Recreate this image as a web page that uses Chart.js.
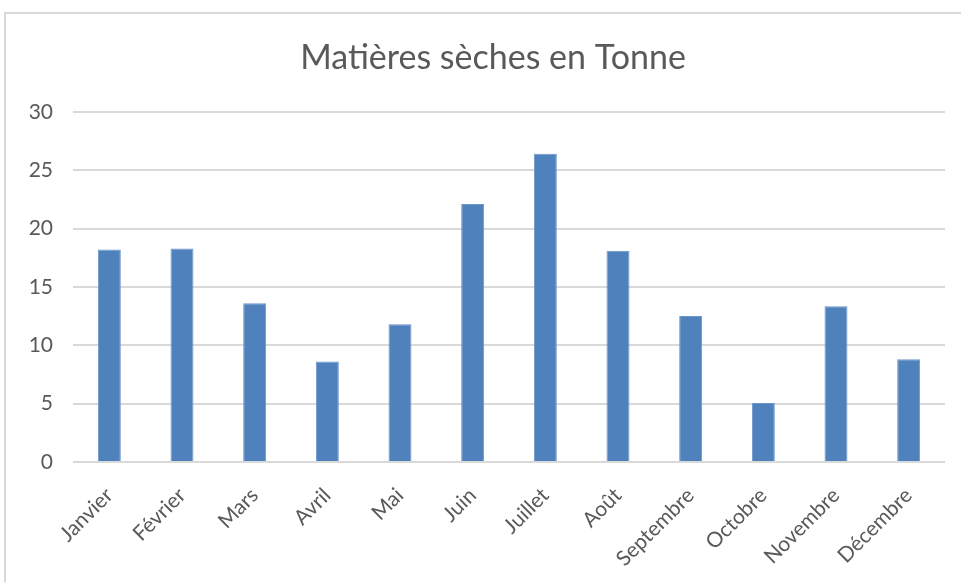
<!DOCTYPE html>
<html>
<head>
<meta charset="utf-8">
<script src="https://cdn.jsdelivr.net/npm/chart.js@4/dist/chart.umd.min.js"></script>
<style>
  html, body { margin: 0; padding: 0; background: #fff; overflow: hidden; }
  #cadre { position: absolute; left: 4px; top: 12px; width: 990px; height: 620px; border: 2px solid #d9d9d9; }
  #zone { position: absolute; left: 0; top: 0; width: 986px; height: 582px; }
</style>
</head>
<body>
<div id="cadre"></div>
<div id="zone"><canvas id="graficoMatieres" width="986" height="582"></canvas></div>
<script>
const mois = [
  'Janvier', 'Février', 'Mars', 'Avril', 'Mai', 'Juin',
  'Juillet', 'Août', 'Septembre', 'Octobre', 'Novembre', 'Décembre'
];
const tonnes = [18.2, 18.3, 13.6, 8.6, 11.8, 22.1, 26.4, 18.1, 12.5, 5.05, 13.35, 8.8];
const titre = 'Matières sèches en Tonne';
const graduations = [0, 5, 10, 15, 20, 25, 30];

const police = 'Lato, "Open Sans", sans-serif';
const gris = '#595959';

// le titre est centré sur le cadre : on décale la marge gauche,
// puis on rend à l'axe Y toute la place pour ses libellés
const elargirAxeY = {
  id: 'elargirAxeY',
  afterLayout(chart) {
    chart.scales.y.left = 0;
  }
};

new Chart(document.getElementById('graficoMatieres').getContext('2d'), {
  type: 'bar',
  data: {
    labels: mois,
    datasets: [{
      label: titre,
      data: tonnes,
      backgroundColor: '#4f81bd',
      borderColor: '#6b95c9',
      borderWidth: 1,
      categoryPercentage: 1,
      barPercentage: 0.316
    }]
  },
  options: {
    responsive: false,
    animation: false,
    devicePixelRatio: 1,
    layout: { padding: { left: 41, right: 41, top: 0, bottom: 0 } },
    plugins: {
      legend: { display: false },
      tooltip: { enabled: false },
      title: {
        display: true,
        text: titre,
        color: gris,
        font: { family: police, size: 34, weight: 'normal' },
        padding: { top: 38, bottom: 33 }
      }
    },
    scales: {
      x: {
        afterFit: s => { s.height = 120; },
        grid: { display: false },
        border: { display: false },
        ticks: {
          color: gris,
          font: { family: police, size: 21 },
          minRotation: 45,
          maxRotation: 45,
          padding: 13
        }
      },
      y: {
        min: graduations[0],
        max: graduations[graduations.length - 1],
        afterFit: s => { s.width = 32; },
        afterBuildTicks: s => { s.ticks = graduations.map(v => ({ value: v })); },
        border: { display: false },
        grid: { color: '#d9d9d9', lineWidth: 2, drawTicks: false },
        ticks: {
          color: gris,
          font: { family: police, size: 21 },
          padding: 20
        }
      }
    }
  },
  plugins: [elargirAxeY]
});
</script>
</body>
</html>
